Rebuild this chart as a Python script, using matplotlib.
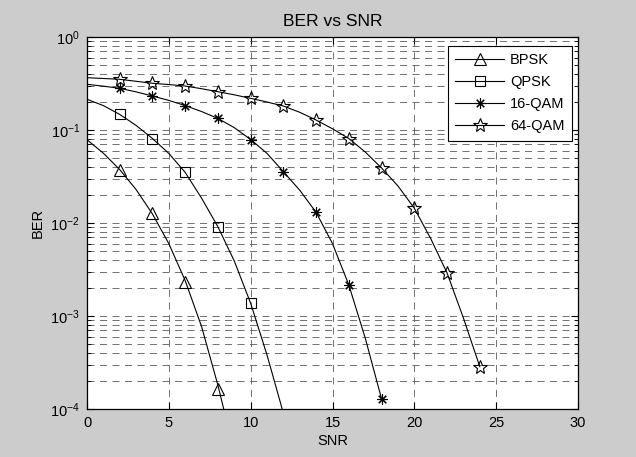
import matplotlib
matplotlib.use("Agg")
from matplotlib import pyplot as plt
from matplotlib.lines import Line2D
from matplotlib.ticker import LogLocator, MultipleLocator, NullFormatter

# smooth curves (values read at every 1 dB)
snr_bpsk = [0, 1, 2, 3, 4, 5, 6, 7, 8, 9]
ber_bpsk = [0.0786, 0.0563, 0.0375, 0.0229, 0.0125, 0.0060, 0.0024, 7.7e-4, 1.8e-4, 3.4e-5]

snr_qpsk = [0, 1, 2, 3, 4, 5, 6, 7, 8, 9, 10, 11, 12, 13]
ber_qpsk = [0.214, 0.183, 0.147, 0.112, 0.081, 0.056, 0.035, 0.0185, 0.0091, 0.0039,
            0.00137, 0.00038, 9.0e-5, 1.5e-5]

snr_16qam = list(range(0, 19))
ber_16qam = [0.31, 0.296, 0.281, 0.257, 0.232, 0.208, 0.183, 0.158, 0.133, 0.106,
             0.079, 0.056, 0.0356, 0.0225, 0.013, 0.0060, 0.00215, 5.8e-4, 1.28e-4]

snr_64qam = list(range(0, 25))
ber_64qam = [0.365, 0.358, 0.351, 0.334, 0.318, 0.308, 0.297, 0.278, 0.258, 0.239,
             0.219, 0.200, 0.181, 0.155, 0.128, 0.103, 0.081, 0.058, 0.039, 0.025,
             0.0144, 0.0068, 0.0029, 9.5e-4, 2.85e-4]

# marker points
mk_snr_bpsk = [2, 4, 6, 8]
mk_ber_bpsk = [0.037, 0.0128, 0.0023, 1.64e-4]
mk_snr_qpsk = [2, 4, 6, 8, 10]
mk_ber_qpsk = [0.147, 0.081, 0.035, 0.0091, 0.00137]
mk_snr_16qam = [2, 4, 6, 8, 10, 12, 14, 16, 18]
mk_ber_16qam = [0.281, 0.232, 0.183, 0.133, 0.079, 0.0356, 0.013, 0.00215, 1.28e-4]
mk_snr_64qam = [2, 4, 6, 8, 10, 12, 14, 16, 18, 20, 22, 24]
mk_ber_64qam = [0.351, 0.318, 0.297, 0.258, 0.219, 0.181, 0.128, 0.081, 0.039, 0.0144,
                0.0029, 2.85e-4]

labels = ["BPSK", "QPSK", "16-QAM", "64-QAM"]

plt.rcParams.update({"font.family": "Liberation Sans", "font.size": 10.5,
                     "mathtext.fontset": "custom", "mathtext.rm": "Liberation Sans"})

fig = plt.figure(figsize=(6.36, 4.57), dpi=100, facecolor="#cccccc")
ax = fig.add_axes([87 / 636, 1 - 409 / 457, 491 / 636, 372 / 457])
ax.set_facecolor("white")

styles = [dict(marker="^", markersize=9),
          dict(marker="s", markersize=7.5),
          dict(marker=(8, 2, 0), markersize=7.5),
          dict(marker="*", markersize=10)]

curves = [(snr_bpsk, ber_bpsk, mk_snr_bpsk, mk_ber_bpsk),
          (snr_qpsk, ber_qpsk, mk_snr_qpsk, mk_ber_qpsk),
          (snr_16qam, ber_16qam, mk_snr_16qam, mk_ber_16qam),
          (snr_64qam, ber_64qam, mk_snr_64qam, mk_ber_64qam)]

handles = []
for (x, y, mx, my), st, lab in zip(curves, styles, labels):
    ax.semilogy(x, y, color="black", lw=0.8)
    ax.semilogy(mx, my, linestyle="none", color="black", markerfacecolor="none",
                markeredgewidth=0.8, **st)
    handles.append(Line2D([], [], color="black", lw=0.8, markerfacecolor="none",
                          markeredgewidth=0.8, **st))

ax.set_xlim(0, 30)
ax.set_ylim(1e-4, 1)
ax.xaxis.set_major_locator(MultipleLocator(5))
ax.yaxis.set_major_locator(LogLocator(base=10, numticks=10))
ax.yaxis.set_minor_locator(LogLocator(base=10, subs=range(2, 10), numticks=10))
ax.yaxis.set_minor_formatter(NullFormatter())

grid_style = dict(color="0.35", lw=0.6, linestyle=(0, (8.5, 6.5)))
ax.xaxis.grid(True, which="major", **grid_style)
ax.yaxis.grid(True, which="both", **grid_style)
ax.set_axisbelow(True)

ax.tick_params(which="both", direction="in", top=True, right=True, colors="black")
ax.tick_params(which="major", length=5, width=0.8, pad=5)
ax.tick_params(which="minor", length=3, width=0.6)
for sp in ax.spines.values():
    sp.set_linewidth(0.9)
    sp.set_color("black")

ax.set_title("BER vs SNR", pad=8)
ax.set_xlabel("SNR", labelpad=3)
ax.set_ylabel("BER", labelpad=4)

leg = ax.legend(handles, labels, loc="upper right",
                bbox_to_anchor=((572 - 87) / 491, 1 - (46 - 37) / 372),
                borderaxespad=0, fancybox=False, framealpha=1, edgecolor="black",
                handlelength=3.4, numpoints=1, labelspacing=0.55, handletextpad=0.4,
                borderpad=0.5)
leg.get_frame().set_linewidth(0.8)

fig.savefig("out.png", dpi=100, facecolor=fig.get_facecolor())
